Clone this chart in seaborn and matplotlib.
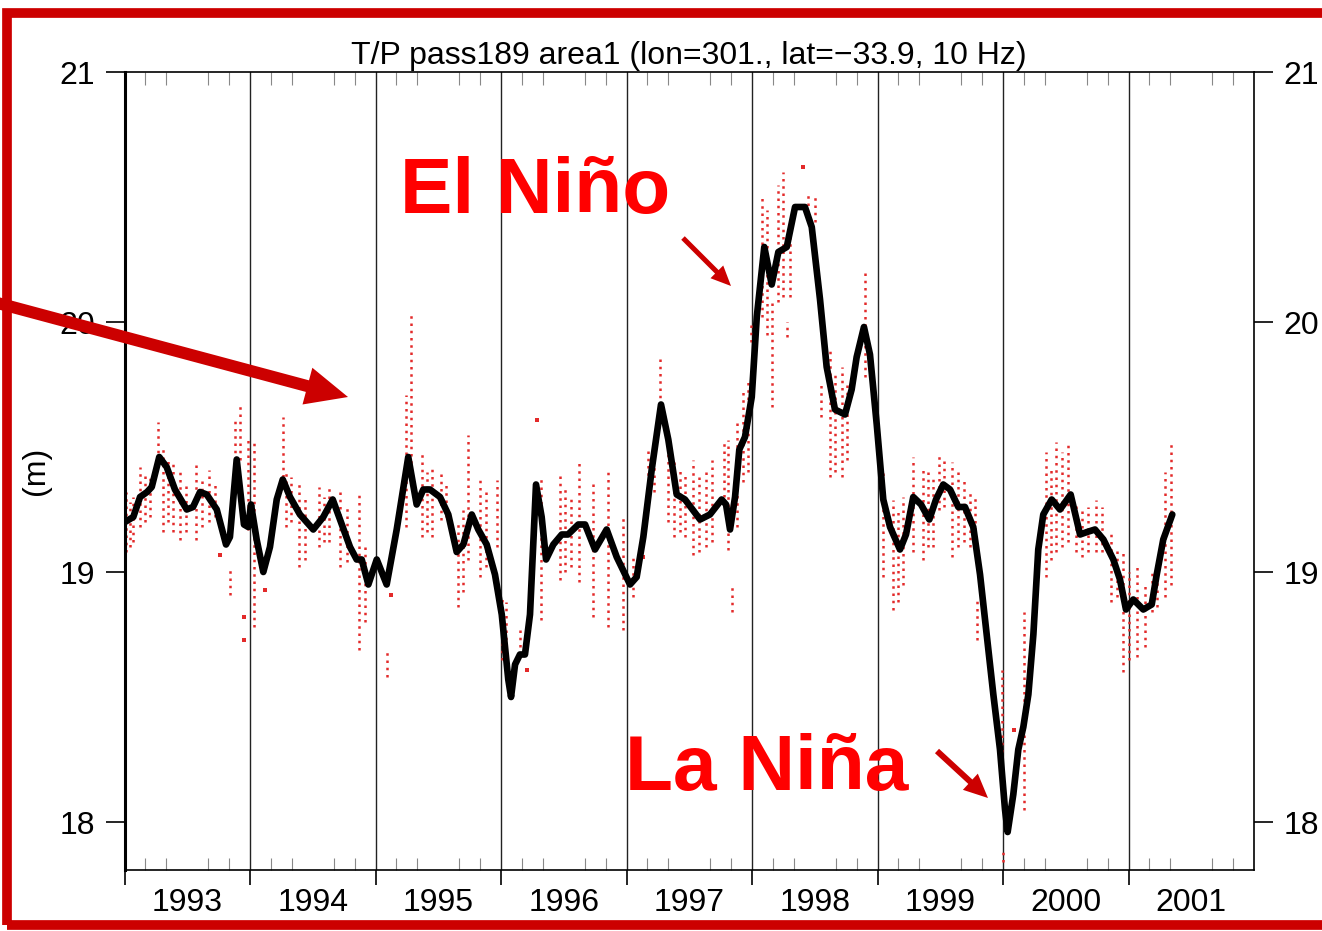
import numpy as np
import pandas as pd
import matplotlib
matplotlib.use("Agg")
import matplotlib.pyplot as plt
import seaborn as sns
from matplotlib.patches import FancyArrowPatch, Rectangle, ArrowStyle
from matplotlib.ticker import FixedLocator

# ------------------------------------------------------------------ data
title_text = "T/P pass189 area1 (lon=301., lat=\u221233.9, 10 Hz)"
year_labels = ["1993", "1994", "1995", "1996", "1997", "1998", "1999", "2000", "2001"]
year_edges = [1993, 1994, 1995, 1996, 1997, 1998, 1999, 2000, 2001, 2002]
y_ticks = [18, 19, 20, 21]

# smoothed sea level (black curve)
line_years = [1993.004, 1993.07, 1993.124, 1993.18, 1993.217, 1993.277, 1993.336, 1993.402,
              1993.496, 1993.546, 1993.602, 1993.655, 1993.735, 1993.809, 1993.84, 1993.894,
              1993.952, 1993.986, 1994.008, 1994.053, 1994.106, 1994.159, 1994.213, 1994.261,
              1994.319, 1994.398, 1994.504, 1994.584, 1994.659, 1994.717, 1994.797, 1994.85,
              1994.89, 1994.943, 1995.01, 1995.089, 1995.169, 1995.261, 1995.328, 1995.381,
              1995.434, 1995.514, 1995.58, 1995.647, 1995.70, 1995.767, 1995.819, 1995.886,
              1995.952, 1996.006, 1996.058, 1996.08, 1996.112, 1996.151, 1996.191, 1996.231,
              1996.279, 1996.324, 1996.359, 1996.417, 1996.484, 1996.534, 1996.616, 1996.67,
              1996.749, 1996.842, 1996.922, 1997.028, 1997.081, 1997.134, 1997.201, 1997.275,
              1997.333, 1997.40, 1997.466, 1997.586, 1997.665, 1997.758, 1997.793, 1997.825,
              1997.865, 1997.899, 1997.944, 1997.998, 1998.038, 1998.098, 1998.157, 1998.21,
              1998.277, 1998.343, 1998.422, 1998.476, 1998.542, 1998.595, 1998.661, 1998.741,
              1998.794, 1998.834, 1998.892, 1998.94, 1998.994, 1999.046, 1999.10, 1999.179,
              1999.227, 1999.285, 1999.347, 1999.413, 1999.466, 1999.524, 1999.578, 1999.644,
              1999.697, 1999.763, 1999.817, 1999.87, 1999.923, 1999.976, 2000.016, 2000.037,
              2000.082, 2000.122, 2000.162, 2000.202, 2000.242, 2000.281, 2000.321, 2000.388,
              2000.454, 2000.539, 2000.614, 2000.67, 2000.733, 2000.80, 2000.879, 2000.932,
              2000.98, 2001.038, 2001.118, 2001.185, 2001.225, 2001.277, 2001.349]
line_values = [19.20, 19.22, 19.30, 19.32, 19.34, 19.46, 19.42, 19.33,
               19.25, 19.26, 19.32, 19.31, 19.25, 19.11, 19.14, 19.45,
               19.19, 19.18, 19.27, 19.13, 19.00, 19.10, 19.29, 19.37,
               19.30, 19.23, 19.17, 19.22, 19.29, 19.21, 19.10, 19.05,
               19.05, 18.95, 19.05, 18.95, 19.17, 19.46, 19.27, 19.33,
               19.33, 19.30, 19.23, 19.08, 19.11, 19.23, 19.17, 19.11,
               18.99, 18.83, 18.57, 18.50, 18.63, 18.67, 18.67, 18.83,
               19.35, 19.22, 19.05, 19.11, 19.15, 19.15, 19.19, 19.19,
               19.09, 19.17, 19.06, 18.95, 18.98, 19.14, 19.41, 19.67,
               19.53, 19.31, 19.29, 19.21, 19.23, 19.29, 19.27, 19.17,
               19.30, 19.49, 19.54, 19.70, 20.02, 20.30, 20.15, 20.28,
               20.30, 20.46, 20.46, 20.38, 20.09, 19.82, 19.65, 19.63,
               19.73, 19.86, 19.98, 19.87, 19.59, 19.29, 19.18, 19.09,
               19.15, 19.30, 19.27, 19.21, 19.29, 19.35, 19.33, 19.26,
               19.26, 19.18, 18.99, 18.75, 18.51, 18.29, 18.05, 17.96,
               18.11, 18.29, 18.38, 18.51, 18.75, 19.09, 19.23, 19.29,
               19.25, 19.31, 19.15, 19.16, 19.17, 19.13, 19.05, 18.97,
               18.85, 18.89, 18.85, 18.87, 18.99, 19.13, 19.23]

# 10 Hz along-track samples: vertical columns (time, lowest, highest) per cycle
cols_1993 = [(1993.01, 19.08, 19.32), (1993.04, 19.10, 19.28), (1993.07, 19.12, 19.30),
             (1993.12, 19.18, 19.42), (1993.16, 19.20, 19.40), (1993.20, 19.22, 19.38),
             (1993.27, 19.45, 19.60), (1993.31, 19.16, 19.50), (1993.35, 19.20, 19.46),
             (1993.39, 19.16, 19.44), (1993.44, 19.13, 19.40), (1993.49, 19.16, 19.36),
             (1993.57, 19.13, 19.43), (1993.62, 19.18, 19.38), (1993.67, 19.20, 19.41),
             (1993.72, 19.22, 19.36), (1993.84, 18.91, 19.02), (1993.88, 19.45, 19.62),
             (1993.92, 19.45, 19.68), (1993.985, 19.17, 19.54)]
cols_1994 = [(1994.03, 18.78, 19.52), (1994.26, 19.38, 19.62), (1994.29, 19.18, 19.40),
             (1994.33, 19.20, 19.38), (1994.39, 19.02, 19.37), (1994.44, 19.05, 19.30),
             (1994.55, 19.10, 19.34), (1994.59, 19.12, 19.30), (1994.63, 19.12, 19.34),
             (1994.72, 19.02, 19.33), (1994.77, 19.04, 19.26), (1994.87, 18.69, 19.32),
             (1994.92, 18.80, 19.10)]
cols_1995 = [(1995.09, 18.58, 18.68), (1995.24, 19.18, 19.71), (1995.28, 19.35, 20.03),
             (1995.37, 19.14, 19.49), (1995.41, 19.16, 19.40), (1995.45, 19.14, 19.42),
             (1995.52, 19.21, 19.41), (1995.56, 19.22, 19.36), (1995.66, 18.86, 19.20),
             (1995.70, 18.92, 19.25), (1995.74, 19.05, 19.55), (1995.83, 18.98, 19.37),
             (1995.88, 19.02, 19.32), (1995.97, 19.10, 19.37)]
cols_1996 = [(1996.01, 18.65, 18.90), (1996.04, 18.70, 18.88), (1996.15, 18.70, 18.78),
             (1996.32, 18.81, 19.38), (1996.47, 18.97, 19.40), (1996.51, 19.00, 19.34),
             (1996.56, 19.02, 19.30), (1996.62, 18.96, 19.45), (1996.73, 18.82, 19.36),
             (1996.85, 18.78, 19.40), (1996.97, 18.77, 19.22)]
cols_1997 = [(1997.05, 18.90, 19.06), (1997.17, 19.30, 19.50), (1997.22, 19.32, 19.48),
             (1997.27, 19.67, 19.86), (1997.33, 19.20, 19.54), (1997.38, 19.14, 19.45),
             (1997.43, 19.16, 19.42), (1997.47, 19.14, 19.40), (1997.53, 19.07, 19.45),
             (1997.58, 19.08, 19.38), (1997.63, 19.10, 19.40), (1997.68, 19.12, 19.45),
             (1997.78, 19.30, 19.52), (1997.81, 19.09, 19.53), (1997.84, 18.84, 18.95),
             (1997.88, 19.18, 19.60), (1997.93, 19.36, 19.72), (1997.97, 19.40, 19.77),
             (1997.995, 19.92, 20.00)]
cols_1998 = [(1998.08, 20.02, 20.50), (1998.12, 19.95, 20.45), (1998.16, 19.66, 20.09),
             (1998.21, 20.08, 20.55), (1998.25, 20.10, 20.60), (1998.28, 19.94, 20.00),
             (1998.30, 20.10, 20.40), (1998.45, 20.41, 20.52), (1998.50, 20.40, 20.50),
             (1998.55, 19.62, 19.76), (1998.62, 19.38, 19.90), (1998.66, 19.40, 19.80),
             (1998.72, 19.38, 19.82), (1998.76, 19.45, 19.75), (1998.90, 19.78, 20.21)]
cols_1999 = [(1999.04, 18.98, 19.41), (1999.12, 18.85, 19.29), (1999.16, 18.88, 19.25),
             (1999.20, 18.95, 19.30), (1999.28, 19.08, 19.46), (1999.36, 19.05, 19.41),
             (1999.40, 19.10, 19.40), (1999.44, 19.10, 19.38), (1999.49, 19.25, 19.48),
             (1999.53, 19.26, 19.45), (1999.59, 19.06, 19.44), (1999.64, 19.10, 19.40),
             (1999.69, 19.12, 19.38), (1999.74, 19.10, 19.33), (1999.78, 19.08, 19.30),
             (1999.79, 18.73, 18.89), (1999.99, 18.28, 18.61), (2000.00, 17.84, 17.89)]
cols_2000 = [(2000.17, 18.05, 18.84), (2000.34, 18.98, 19.48), (2000.38, 19.05, 19.42),
             (2000.42, 19.08, 19.52), (2000.47, 19.10, 19.48), (2000.52, 19.12, 19.52),
             (2000.58, 19.08, 19.28), (2000.63, 19.06, 19.25), (2000.68, 19.08, 19.26),
             (2000.74, 19.08, 19.29), (2000.79, 19.08, 19.26), (2000.86, 18.88, 19.16),
             (2000.91, 18.90, 19.10), (2000.96, 18.60, 19.08), (2001.00, 18.65, 19.00)]
cols_2001 = [(2001.07, 18.66, 19.02), (2001.13, 18.70, 18.96), (2001.19, 18.84, 19.00),
             (2001.23, 18.86, 18.98), (2001.29, 18.90, 19.40), (2001.34, 18.95, 19.53)]

# isolated samples
single_years = [1993.76, 1993.95, 1993.95, 1994.12, 1995.12, 1996.21, 1996.29, 1997.13,
                1998.41, 1998.55, 2000.09]
single_values = [19.07, 18.82, 18.73, 18.93, 18.91, 18.61, 19.61, 19.06,
                 20.62, 20.05, 18.37]

# ------------------------------------------------------------------ style
sns.set_style("ticks")
plt.rcParams["font.family"] = ["Liberation Sans", "DejaVu Sans"]
plt.rcParams["text.color"] = "black"
plt.rcParams["axes.labelcolor"] = "black"
plt.rcParams["xtick.color"] = "black"
plt.rcParams["ytick.color"] = "black"

W, H = 1322, 931
fig = plt.figure(figsize=(W / 100, H / 100), dpi=100)
ax_left, ax_right, ax_top, ax_bot = 124.5, 1254, 72, 870
ax = fig.add_axes([ax_left / W, 1 - ax_bot / H, (ax_right - ax_left) / W, (ax_bot - ax_top) / H])

ymin = 21 - (ax_bot - ax_top) / 250.0
ax.set_xlim(1993, 2002)
ax.set_ylim(ymin, 21)

# year boundary lines
for e in year_edges[1:-1]:
    ax.axvline(e, color="#222222", lw=1.0, zorder=1)

# red along-track samples
all_cols = cols_1993 + cols_1994 + cols_1995 + cols_1996 + cols_1997 + cols_1998 + cols_1999 + cols_2000 + cols_2001
dots = pd.DataFrame(all_cols, columns=["t", "lo", "hi"])
ax.vlines(dots["t"], dots["lo"], dots["hi"], colors="#e32a2a",
          linestyles=(0, (1.0, 1.9)), linewidth=1.8, zorder=2)
sns.scatterplot(x=single_years, y=single_values, color="#e32a2a", s=6, marker="s",
                linewidth=0, ax=ax, zorder=2)

# smoothed curve
curve = pd.DataFrame({"t": line_years, "h": line_values})
sns.lineplot(data=curve, x="t", y="h", color="black", lw=4.8, ax=ax, zorder=3,
             solid_joinstyle="round", solid_capstyle="round")

# spines
for s in ax.spines.values():
    s.set_linewidth(1.2)
    s.set_color("black")
ax.spines["left"].set_linewidth(2.2)

# x ticks: labels at mid-year
ax.set_xticks([y + 0.5 for y in year_edges[:-1]], labels=year_labels)
ax.tick_params(axis="x", which="major", length=0, pad=13, labelsize=23)
minor = [y + k / 6 for y in year_edges[:-1] for k in range(1, 6)]
ax.xaxis.set_minor_locator(FixedLocator(minor))
ax.tick_params(axis="x", which="minor", direction="in", length=9, width=0.8,
               top=True, bottom=True, color="#888888")
sec = ax.secondary_xaxis("bottom")
sec.set_xticks(year_edges[:-1])
sec.set_xticklabels([])
sec.tick_params(axis="x", which="major", direction="out", length=11, width=1.2)
sec.tick_params(axis="x", which="minor", length=0)
sec.spines["bottom"].set_visible(False)

# y ticks both sides
ax.set_yticks(y_ticks)
ax.set_yticklabels([str(v) for v in y_ticks])
ax.tick_params(axis="y", which="major", direction="out", length=14, width=1.2,
               left=True, right=True, labelleft=True, labelright=True,
               labelsize=23, pad=7)
ax.set_xlabel("")
ax.set_ylabel("(m)", fontsize=23)
ax.yaxis.set_label_coords((51 - ax_left) / (ax_right - ax_left), 0.5)
ax.set_title(title_text, fontsize=23, pad=6, color="black")

# ------------------------------------------------------------------ annotations
def fx(px):
    return px / W

def fy(py):
    return 1 - py / H

fig.text(fx(400), fy(213), "El Ni\u00f1o", color="#ff0000", fontsize=56.5,
         fontweight="bold", ha="left", va="baseline")
fig.text(fx(625), fy(790), "La Ni\u00f1a", color="#ff0000", fontsize=56.5,
         fontweight="bold", ha="left", va="baseline")

k = 72 / 100.0  # mutation scale so sizes are in pixels
arrows = [((-10, 301), (348, 397), 12, 38, 42),
          ((683, 238), (731, 286), 5, 18, 20),
          ((937, 751), (988, 798), 6, 22, 24)]
for (x0, y0), (x1, y1), tw, hw, hl in arrows:
    st = ArrowStyle.Simple(head_length=hl, head_width=hw, tail_width=tw)
    fig.add_artist(FancyArrowPatch((fx(x0), fy(y0)), (fx(x1), fy(y1)),
                                   transform=fig.transFigure, arrowstyle=st,
                                   mutation_scale=k, color="#cc0000", lw=0,
                                   shrinkA=0, shrinkB=0, zorder=10))

# red frame
fig.add_artist(Rectangle((fx(7), fy(925)), fx(1340) - fx(7), fy(13) - fy(925),
                         transform=fig.transFigure, fill=False,
                         edgecolor="#cc0000", lw=7, zorder=11))

fig.savefig("out.png", dpi=100)
